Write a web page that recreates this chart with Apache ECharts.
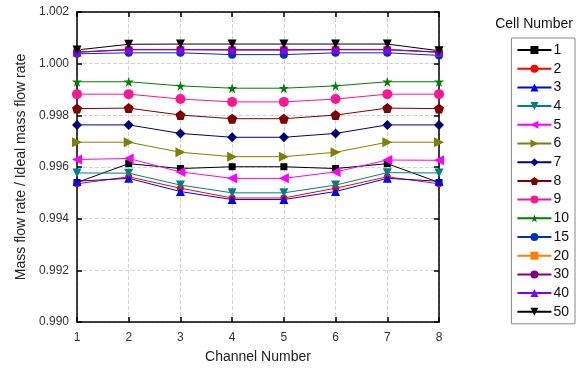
<!DOCTYPE html>
<html>
<head>
<meta charset="utf-8">
<script src="https://cdn.jsdelivr.net/npm/echarts@6/dist/echarts.min.js"></script>
<style>
  html, body { margin: 0; padding: 0; background: #fff; }
  #chart { width: 582px; height: 369px; }
</style>
</head>
<body>
<div id="chart"></div>
<script>
  // channel numbers (x)
  const channels = [1, 2, 3, 4, 5, 6, 7, 8]
  const yTicks = [0.990, 0.992, 0.994, 0.996, 0.998, 1.000, 1.002]

  // ratio per channel, one array per cell number
  const cell1 = [0.99540, 0.99613, 0.99594, 0.99601, 0.99601, 0.99594, 0.99613, 0.99540]
  const cell2 = [0.99535, 0.99562, 0.99518, 0.99480, 0.99480, 0.99518, 0.99562, 0.99535]
  const cell3 = [0.99545, 0.99556, 0.99505, 0.99474, 0.99474, 0.99505, 0.99556, 0.99545]
  const cell4 = [0.99577, 0.99576, 0.99530, 0.99500, 0.99500, 0.99530, 0.99578, 0.99577]
  const cell5 = [0.99629, 0.99633, 0.99581, 0.99556, 0.99556, 0.99581, 0.99627, 0.99626]
  const cell6 = [0.99696, 0.99696, 0.99657, 0.99640, 0.99640, 0.99657, 0.99696, 0.99696]
  const cell7 = [0.99763, 0.99763, 0.99730, 0.99715, 0.99715, 0.99730, 0.99763, 0.99763]
  const cell8 = [0.99826, 0.99828, 0.99801, 0.99787, 0.99787, 0.99801, 0.99828, 0.99826]
  const cell9 = [0.99882, 0.99882, 0.99863, 0.99852, 0.99852, 0.99863, 0.99882, 0.99882]
  const cell10 = [0.99930, 0.99930, 0.99914, 0.99905, 0.99905, 0.99914, 0.99930, 0.99930]
  const cell15 = [1.00038, 1.00042, 1.00042, 1.00035, 1.00035, 1.00042, 1.00042, 1.00032]
  const cell20 = [1.00044, 1.00054, 1.00054, 1.00053, 1.00053, 1.00054, 1.00054, 1.00044]
  const cell30 = [1.00044, 1.00054, 1.00054, 1.00053, 1.00053, 1.00054, 1.00054, 1.00044]
  const cell40 = [1.00045, 1.00055, 1.00055, 1.00054, 1.00054, 1.00055, 1.00055, 1.00045]
  const cell50 = [1.00053, 1.00075, 1.00076, 1.00076, 1.00076, 1.00076, 1.00076, 1.00050]

  const cellNames = ['1', '2', '3', '4', '5', '6', '7', '8', '9', '10', '15', '20', '30', '40', '50']
  const cellValues = [cell1, cell2, cell3, cell4, cell5, cell6, cell7, cell8, cell9, cell10,
    cell15, cell20, cell30, cell40, cell50]

  const starPath = 'path://M50,0 L61,35 L98,35 L68,57 L79,91 L50,70 L21,91 L32,57 L2,35 L39,35 Z'
  const pentPath = 'path://M50,0 L98,35 L79,91 L21,91 L2,35 Z'

  // look of each series: colour, symbol, rotate, size
  const looks = [
    ['#000000', 'rect', 0, 7],
    ['#ff0000', 'circle', 0, 7],
    ['#0000ff', 'triangle', 0, 9],
    ['#008080', 'triangle', 180, 9],
    ['#ff00ff', 'triangle', 90, 10],
    ['#808000', 'triangle', -90, 10],
    ['#000080', 'diamond', 0, 10],
    ['#800000', pentPath, 0, 10],
    ['#ff1493', 'circle', 0, 10],
    ['#008000', starPath, 0, 10],
    ['#0030c0', 'circle', 0, 8],
    ['#ff8000', 'rect', 0, 8],
    ['#800080', 'circle', 0, 8],
    ['#8000ff', 'triangle', 0, 9],
    ['#000000', 'triangle', 180, 9]
  ]

  const series = cellNames.map((name, i) => ({
    name: name,
    type: 'line',
    data: channels.map((c, j) => [c, cellValues[i][j]]),
    symbol: looks[i][1],
    symbolRotate: looks[i][2],
    symbolSize: looks[i][3],
    showAllSymbol: true,
    lineStyle: { width: 1, color: looks[i][0] },
    itemStyle: { color: looks[i][0] },
    emphasis: { disabled: true },
    animation: false
  }))

  const font = 'Liberation Sans, Arial, sans-serif'
  const chart = echarts.init(document.getElementById('chart'))
  chart.setOption({
    textStyle: { fontFamily: font },
    title: {
      text: 'Cell Number',
      right: 4,
      top: 12,
      textStyle: { fontSize: 14, fontWeight: 'normal', color: '#111', fontFamily: font }
    },
    legend: {
      orient: 'vertical',
      right: 7,
      top: 38,
      data: cellNames,
      itemWidth: 34,
      itemHeight: 10,
      itemGap: 2.7,
      padding: [4, 6, 4, 5],
      borderColor: '#888',
      borderWidth: 1,
      textStyle: { fontSize: 14, lineHeight: 16, color: '#111', padding: [0, 0, 0, -3] }
    },
    grid: { left: 77, right: 143, top: 12, bottom: 45 },
    xAxis: [{
      type: 'value',
      min: 1, max: 8, interval: 1,
      name: 'Channel Number',
      nameLocation: 'middle',
      nameGap: 28,
      nameTextStyle: { fontSize: 14, color: '#222' },
      axisLine: { lineStyle: { color: '#000', width: 1.5 } },
      axisTick: { inside: true, length: 5, lineStyle: { color: '#000', width: 1.5 } },
      axisLabel: { fontSize: 12, color: '#333', margin: 10 },
      splitLine: { show: true, lineStyle: { type: 'dashed', color: '#d4d4d4' } }
    }, {
      type: 'value', position: 'top',
      min: 1, max: 8, interval: 1,
      axisLine: { show: true, lineStyle: { color: '#000', width: 1.5 } },
      axisTick: { inside: true, length: 5, lineStyle: { color: '#000', width: 1.5 } },
      axisLabel: { show: false },
      splitLine: { show: false }
    }],
    yAxis: [{
      type: 'value',
      min: 0.990, max: 1.002, interval: 0.002,
      name: 'Mass flow rate / Ideal mass flow rate',
      nameLocation: 'middle',
      nameGap: 45,
      nameTextStyle: { fontSize: 14, color: '#222' },
      axisLine: { show: true, lineStyle: { color: '#000', width: 1.5 } },
      axisTick: { inside: true, length: 5, lineStyle: { color: '#000', width: 1.5 } },
      axisLabel: {
        fontSize: 12, color: '#333', margin: 8,
        formatter: v => {
          const t = yTicks.find(k => Math.abs(k - v) < 1e-9)
          return (t !== undefined ? t : v).toFixed(3)
        }
      },
      splitLine: { show: true, lineStyle: { type: 'dashed', color: '#d4d4d4' } }
    }, {
      type: 'value', position: 'right',
      min: 0.990, max: 1.002, interval: 0.002,
      axisLine: { show: true, lineStyle: { color: '#000', width: 1.5 } },
      axisTick: { inside: true, length: 5, lineStyle: { color: '#000', width: 1.5 } },
      axisLabel: { show: false },
      splitLine: { show: false }
    }],
    series: series
  })
</script>
</body>
</html>
